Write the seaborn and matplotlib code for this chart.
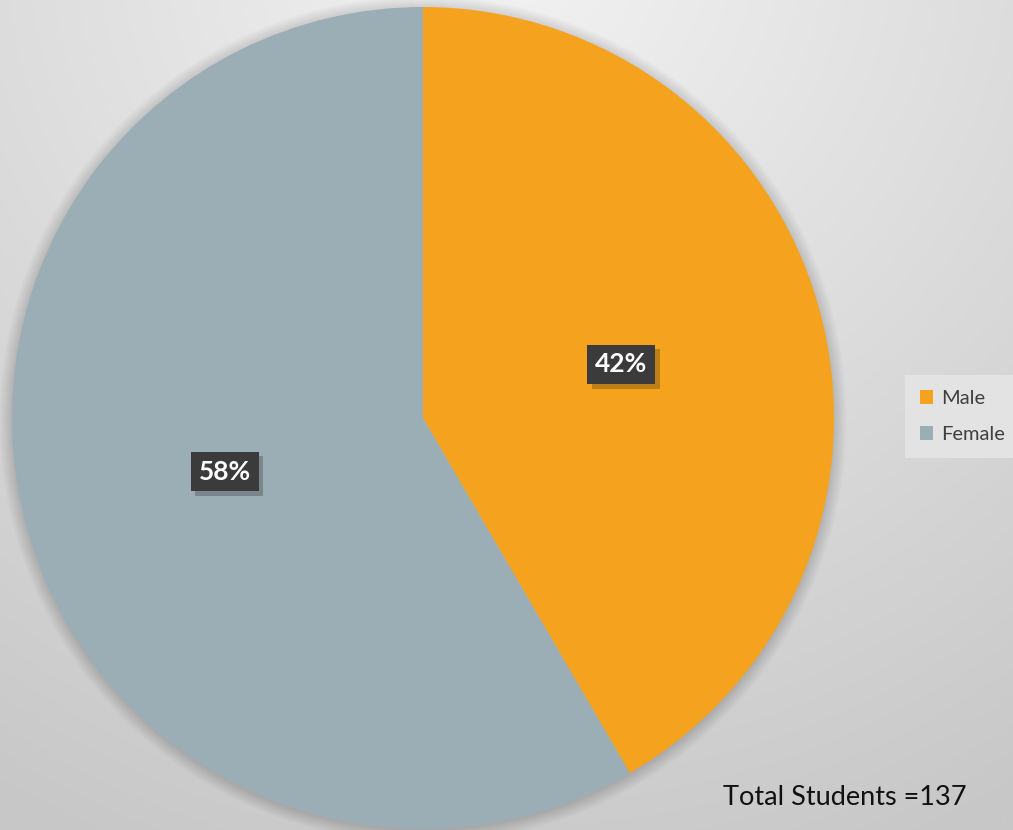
import numpy as np
import matplotlib
matplotlib.use("Agg")
import matplotlib.pyplot as plt
import matplotlib.patheffects as pe
from matplotlib.patches import Circle
import seaborn as sns

# ---- data ----
categories = ["Male", "Female"]
counts = [57, 80]
colors = ["#F5A31F", "#9CAEB5"]
total_note = "Total Students =137"

sns.set_theme(style="white")
plt.rcParams['font.family'] = ['Lato', 'DejaVu Sans']

W, H = 1013, 830
fig = plt.figure(figsize=(W / 100, H / 100), dpi=100)

# background gradient
bg = fig.add_axes([0, 0, 1, 1], zorder=0)
yy, xx = np.mgrid[0:H, 0:W]
r = np.sqrt((xx - 506) ** 2 + (yy + 60) ** 2)
val = 243 - 44 * np.clip(r / 1000.0, 0, 1)
img = np.dstack([val, val, val]) / 255.0
bg.imshow(img, aspect="auto", extent=[0, 1, 0, 1], origin="upper")
bg.set_axis_off()

# pie axes
cx, cy, R = 423, 418, 411
ax = fig.add_axes([(cx - R) / W, (H - cy - R) / H, 2 * R / W, 2 * R / H], zorder=1)
ax.set_facecolor("none")

# soft shadow
for i in range(12):
    ax.add_patch(Circle((0.0, -0.004), 1.0 + i * 0.0028, facecolor="black",
                        edgecolor="none", alpha=0.012, zorder=0, clip_on=False))

wedges, texts, autotexts = ax.pie(
    counts, colors=colors, startangle=90, counterclock=False,
    autopct="%.0f%%", pctdistance=0.5,
    wedgeprops=dict(linewidth=0, edgecolor="none"),
    textprops=dict(color="white", fontsize=19, fontweight="bold"),
)
for w in wedges:
    w.set_zorder(2)
for t in autotexts:
    t.set_zorder(5)
    t.set_bbox(dict(boxstyle="square,pad=0.3", facecolor="#3b3b3b", edgecolor="none"))
    t.get_bbox_patch().set_path_effects([
        pe.SimplePatchShadow(offset=(3, -3), shadow_rgbFace="black", alpha=0.22),
        pe.Normal()])
ax.set_xlim(-1, 1)
ax.set_ylim(-1, 1)
ax.set_axis_off()

leg = fig.legend(wedges, categories, loc="upper left",
                 bbox_to_anchor=(905 / W, 1 - 375 / H), borderaxespad=0,
                 frameon=True, fancybox=False, framealpha=1,
                 facecolor="#e3e3e3", edgecolor="none",
                 handlelength=0.65, handleheight=0.65, handletextpad=0.4,
                 labelspacing=0.95, borderpad=0.75, fontsize=14.5,
                 labelcolor="#404040")
leg.set_zorder(6)

fig.text(723 / W, 1 - 805 / H, total_note, fontsize=19.5, color="#111111",
         va="baseline", ha="left", zorder=7)

fig.savefig("out.png", dpi=100)
